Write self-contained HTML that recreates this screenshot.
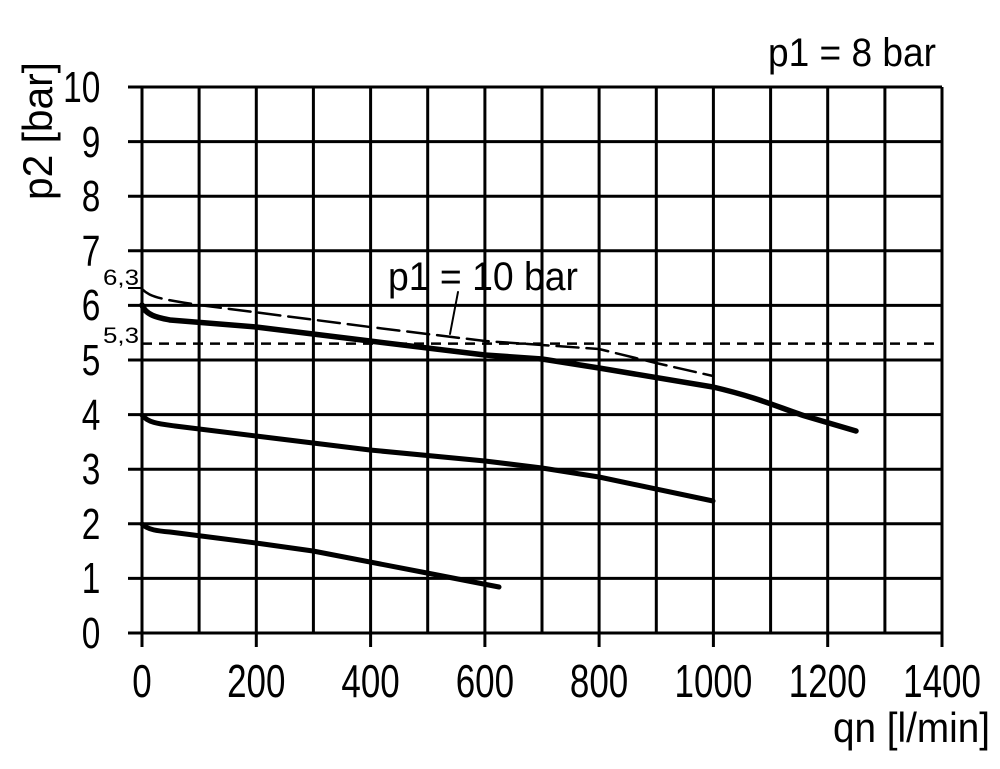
<!DOCTYPE html><html><head><style>body{margin:0;background:#fff}</style></head><body>
<svg width="1000" height="764" xmlns="http://www.w3.org/2000/svg" font-family="Liberation Sans, sans-serif">
<g stroke="#000" stroke-width="3">
<line x1="128" y1="87" x2="942" y2="87"/><line x1="128" y1="141.6" x2="942" y2="141.6"/><line x1="128" y1="196.2" x2="942" y2="196.2"/><line x1="128" y1="250.8" x2="942" y2="250.8"/><line x1="128" y1="305.4" x2="942" y2="305.4"/><line x1="128" y1="360" x2="942" y2="360"/><line x1="128" y1="414.6" x2="942" y2="414.6"/><line x1="128" y1="469.2" x2="942" y2="469.2"/><line x1="128" y1="523.8" x2="942" y2="523.8"/><line x1="128" y1="578.4" x2="942" y2="578.4"/><line x1="128" y1="633" x2="942" y2="633"/>
<line x1="142" y1="87" x2="142" y2="647"/><line x1="199.1" y1="87" x2="199.1" y2="633"/><line x1="256.3" y1="87" x2="256.3" y2="647"/><line x1="313.4" y1="87" x2="313.4" y2="633"/><line x1="370.6" y1="87" x2="370.6" y2="647"/><line x1="427.7" y1="87" x2="427.7" y2="633"/><line x1="484.9" y1="87" x2="484.9" y2="647"/><line x1="542" y1="87" x2="542" y2="633"/><line x1="599.1" y1="87" x2="599.1" y2="647"/><line x1="656.3" y1="87" x2="656.3" y2="633"/><line x1="713.4" y1="87" x2="713.4" y2="647"/><line x1="770.6" y1="87" x2="770.6" y2="633"/><line x1="827.7" y1="87" x2="827.7" y2="647"/><line x1="884.9" y1="87" x2="884.9" y2="633"/><line x1="942" y1="87" x2="942" y2="647"/>
</g>
<line x1="142" y1="343.6" x2="942" y2="343.6" stroke="#000" stroke-width="2.5" stroke-dasharray="10,7"/>
<line x1="128" y1="288" x2="142" y2="288" stroke="#000" stroke-width="2"/>
<g fill="none" stroke="#000" stroke-linecap="round" stroke-linejoin="round">
<path d="M142,305 C146,316 160,318 170,320 L256,327 L370,341 L485,355 L542,359 L599,368 L713,387 C760,398 780,408 805,416 L856,431" stroke-width="5.5"/>
<path d="M142,289 C150,297 160,299 199,305 L370,327 L485,341 L599,349 L656,363 L713,376" stroke-width="2.5" stroke-dasharray="22,8"/>
<path d="M142,415 C148,423 160,424 175,426 L256,436 L370,450 L485,461 L542,468 L599,477 L713,501" stroke-width="5"/>
<path d="M142,524 C148,530 158,531 170,532 L256,543 L313,551 L427,573 L499,587" stroke-width="5"/>
<line x1="458" y1="292" x2="450" y2="334" stroke-width="2"/>
</g>
<g font-size="44" transform="scale(0.76,1)" text-anchor="end">
<text x="132" y="102">10</text><text x="132" y="157">9</text><text x="132" y="211">8</text><text x="132" y="266">7</text><text x="132" y="320">6</text><text x="132" y="375">5</text><text x="132" y="430">4</text><text x="132" y="484">3</text><text x="132" y="539">2</text><text x="132" y="593">1</text><text x="132" y="648">0</text>
</g>
<g font-size="46" transform="scale(0.76,1)" text-anchor="middle">
<text x="186.8" y="697">0</text>
<text x="337.2" y="697">200</text>
<text x="487.6" y="697">400</text>
<text x="638" y="697">600</text>
<text x="788.3" y="697">800</text>
<text x="938.7" y="697">1000</text>
<text x="1089" y="697">1200</text>
<text x="1239.5" y="697">1400</text>
</g>
<text x="833" y="742" font-size="42" textLength="157" lengthAdjust="spacingAndGlyphs">qn [l/min]</text>
<text transform="translate(52,200) rotate(-90)" font-size="42" textLength="138" lengthAdjust="spacingAndGlyphs">p2 [bar]</text>
<text x="768" y="66" font-size="40" textLength="168" lengthAdjust="spacingAndGlyphs">p1 = 8 bar</text>
<text x="388" y="290" font-size="40" textLength="190" lengthAdjust="spacingAndGlyphs">p1 = 10 bar</text>
<text x="103" y="285" font-size="22" textLength="36" lengthAdjust="spacingAndGlyphs">6,3</text>
<text x="103" y="343" font-size="22" textLength="36" lengthAdjust="spacingAndGlyphs">5,3</text>
</svg></body></html>
